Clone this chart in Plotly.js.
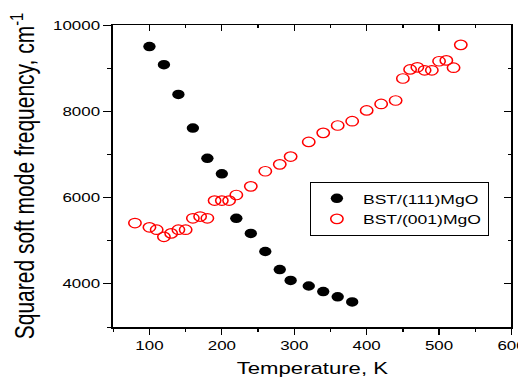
<!DOCTYPE html>
<html>
<head>
<meta charset="utf-8">
<script src="https://cdn.plot.ly/plotly-3.0.1.min.js"></script>
<style>
html,body{margin:0;padding:0;overflow:hidden;background:#fff;width:518px;height:378px}
#chart{width:398px;height:378px;transform:scaleX(1.3015);transform-origin:0 0}
</style>
</head>
<body>
<div id="chart"></div>
<script>
// BST/(111)MgO : filled black circles
const temp111 = [100,120,140,160,180,200,220,240,260,280,295,320,340,360,380];
const freq111 = [9500,9080,8390,7610,6910,6550,5520,5170,4750,4330,4080,3950,3820,3700,3580];
// BST/(001)MgO : open red circles
const temp001 = [80,100,110,120,130,140,150,160,170,180,190,200,210,220,240,260,280,295,320,340,360,380,400,420,440,450,460,470,480,490,500,510,520,530];
const freq001 = [5410,5310,5255,5090,5170,5255,5255,5520,5560,5520,5930,5930,5930,6060,6260,6610,6770,6950,7290,7500,7670,7770,8020,8170,8250,8760,8970,9020,8950,8950,9160,9180,9010,9540];
const seriesNames = ['BST/(111)MgO','BST/(001)MgO'];
const xTitle = 'Temperature, K';
const yTitle = 'Squared soft mode frequency, cm<sup>-1</sup>';

const FONT = '"Liberation Sans", Arial, Helvetica, sans-serif';
const xRange = [50, 600];
const yRange = [3000, 10000];

const traces = [
  {x: temp111, y: freq111, name: seriesNames[0], type: 'scatter', mode: 'markers',
   marker: {symbol: 'circle', size: 9.5, color: '#000000'}, xaxis: 'x', yaxis: 'y'},
  {x: temp001, y: freq001, name: seriesNames[1], type: 'scatter', mode: 'markers',
   marker: {symbol: 'circle-open', size: 9.5, color: '#ff0000', line: {width: 1.2, color: '#ff0000'}},
   xaxis: 'x2', yaxis: 'y2'}
];

const tickFont = {family: FONT, size: 13, color: '#000'};
const layout = {
  width: 398, height: 378, autosize: false,
  margin: {l: 87, r: 5, t: 25, b: 51, pad: 0},
  paper_bgcolor: '#fff', plot_bgcolor: '#fff',
  font: {family: FONT, color: '#000'},
  showlegend: true,
  legend: {x: 0.493, y: 0.48, xanchor: 'left', yanchor: 'top',
    bgcolor: '#fff', bordercolor: '#000', borderwidth: 1,
    font: {family: FONT, size: 13.5, color: '#000'}},
  xaxis: {range: xRange, tick0: 0, dtick: 100, ticks: 'outside', ticklen: 6, tickwidth: 1, tickcolor: '#000',
    minor: {ticks: 'outside', ticklen: 3, dtick: 50, tick0: 0, tickcolor: '#000', tickwidth: 1},
    showline: true, linecolor: '#000', linewidth: 1.5, showgrid: false, zeroline: false,
    tickfont: tickFont, tickformat: 'd', ticklabeloverflow: 'allow',
    title: {text: xTitle, standoff: 17, font: {family: FONT, size: 17, color: '#000'}}},
  yaxis: {range: yRange, tick0: 0, dtick: 2000, ticks: 'outside', ticklen: 6, tickwidth: 1, tickcolor: '#000',
    minor: {ticks: 'outside', ticklen: 3, dtick: 1000, tick0: 0, tickcolor: '#000', tickwidth: 1},
    showline: true, linecolor: '#000', linewidth: 1.5, showgrid: false, zeroline: false,
    tickfont: tickFont, tickformat: 'd',
    title: {text: yTitle, standoff: 8, font: {family: FONT, size: 21, color: '#000'}}},
  xaxis2: {range: xRange, overlaying: 'x', side: 'top', anchor: 'y2', tick0: 0, dtick: 100,
    ticks: 'inside', ticklen: 6, tickwidth: 1, tickcolor: '#000',
    minor: {ticks: 'inside', ticklen: 3, dtick: 50, tick0: 0, tickcolor: '#000', tickwidth: 1},
    showticklabels: false, showline: true, linecolor: '#000', linewidth: 1.5, showgrid: false, zeroline: false},
  yaxis2: {range: yRange, overlaying: 'y', side: 'right', anchor: 'x2', tick0: 0, dtick: 2000,
    ticks: 'inside', ticklen: 6, tickwidth: 1, tickcolor: '#000',
    minor: {ticks: 'inside', ticklen: 3, dtick: 1000, tick0: 0, tickcolor: '#000', tickwidth: 1},
    showticklabels: false, showline: true, linecolor: '#000', linewidth: 1.5, showgrid: false, zeroline: false}
};

Plotly.newPlot('chart', traces, layout, {staticPlot: true, displayModeBar: false});
</script>
</body>
</html>
